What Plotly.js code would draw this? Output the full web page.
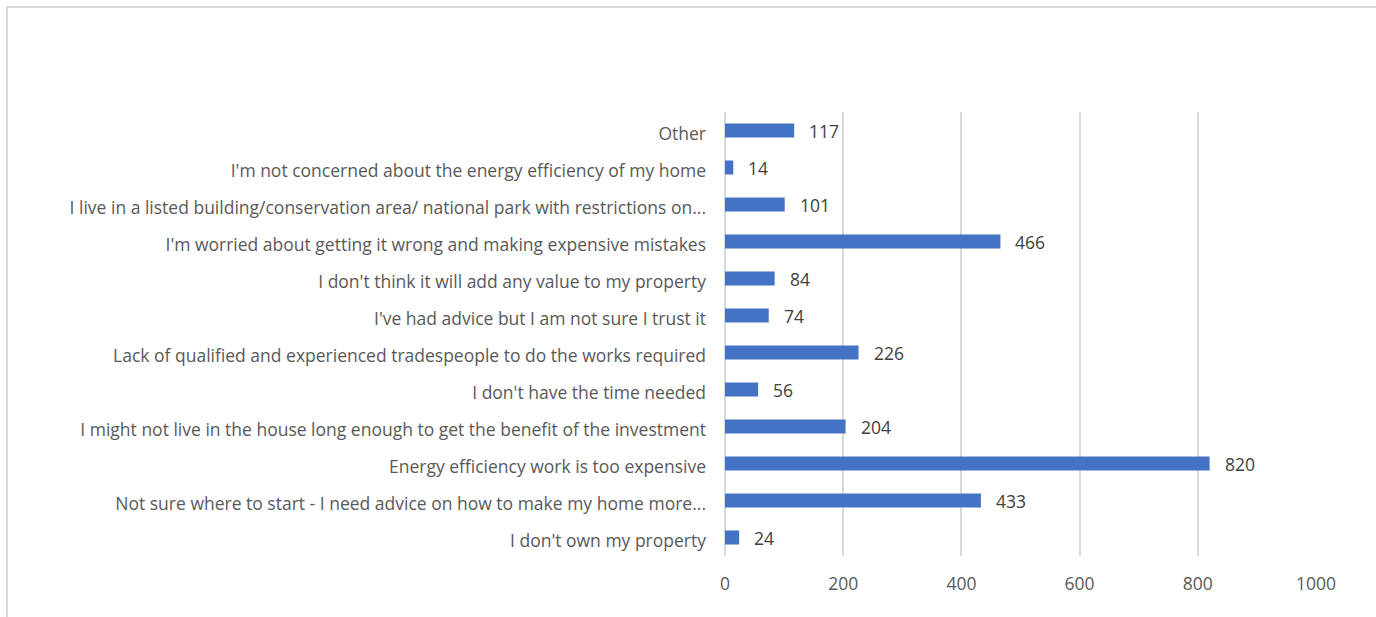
<!DOCTYPE html>
<html>
<head>
<meta charset="utf-8">
<script src="https://cdn.plot.ly/plotly-3.0.1.min.js"></script>
<style>
html,body{margin:0;padding:0;background:#fff;overflow:hidden;}
#wrap{position:relative;width:1376px;height:617px;overflow:hidden;}
#frame{position:absolute;left:6px;top:6px;width:1400px;height:700px;border:2px solid #d9d9d9;box-sizing:border-box;}
#chart{position:absolute;left:0;top:0;width:1376px;height:617px;}
</style>
</head>
<body>
<div id="wrap"><div id="frame"></div><div id="chart"></div></div>
<script>
const categories = [
  "I don't own my property",
  "Not sure where to start - I need advice on how to make my home more...",
  "Energy efficiency work is too expensive",
  "I might not live in the house long enough to get the benefit of the investment",
  "I don't have the time needed",
  "Lack of qualified and experienced tradespeople to do the works required",
  "I've had advice but I am not sure I trust it",
  "I don't think it will add any value to my property",
  "I'm worried about getting it wrong and making expensive mistakes",
  "I live in a listed building/conservation area/ national park with restrictions on...",
  "I'm not concerned about the energy efficiency of my home",
  "Other"
];
const values = [24, 433, 820, 204, 56, 226, 74, 84, 466, 101, 14, 117];
const tickValues = [0, 200, 400, 600, 800, 1000];

const FONT = "'Open Sans', sans-serif";
const FS = 17.5;

const trace = {
  type: 'bar',
  orientation: 'h',
  y: categories,
  x: values,
  marker: {color: '#4472C4'},
  hoverinfo: 'x+y'
};

const annotations = values.map((v, i) => ({
  x: v, y: categories[i], xref: 'x', yref: 'y',
  text: String(v), showarrow: false, xanchor: 'left', yanchor: 'middle',
  xshift: 13, font: {family: FONT, size: FS, color: '#404040'}
}));

const layout = {
  width: 1376, height: 617,
  margin: {l: 725, r: 60, t: 112, b: 61, pad: 0},
  paper_bgcolor: 'rgba(0,0,0,0)',
  plot_bgcolor: 'rgba(0,0,0,0)',
  bargap: 0.62,
  showlegend: false,
  font: {family: FONT, size: FS, color: '#595959'},
  xaxis: {
    range: [0, 1000], tickvals: tickValues, ticktext: tickValues.map(String),
    showgrid: true, gridcolor: '#d9d9d9', gridwidth: 2,
    zeroline: true, zerolinecolor: '#d9d9d9', zerolinewidth: 2,
    showline: false, ticks: '', ticklabelstandoff: 15,
    tickfont: {family: FONT, size: FS, color: '#595959'}, fixedrange: true
  },
  yaxis: {
    type: 'category', categoryorder: 'array', categoryarray: categories,
    showgrid: false, zeroline: false, showline: false, ticks: '',
    ticklabelstandoff: 18, ticklabelshift: 3,
    tickfont: {family: FONT, size: FS, color: '#595959'}, fixedrange: true
  },
  annotations: annotations
};

Plotly.newPlot('chart', [trace], layout, {displayModeBar: false, staticPlot: true});
</script>
</body>
</html>
